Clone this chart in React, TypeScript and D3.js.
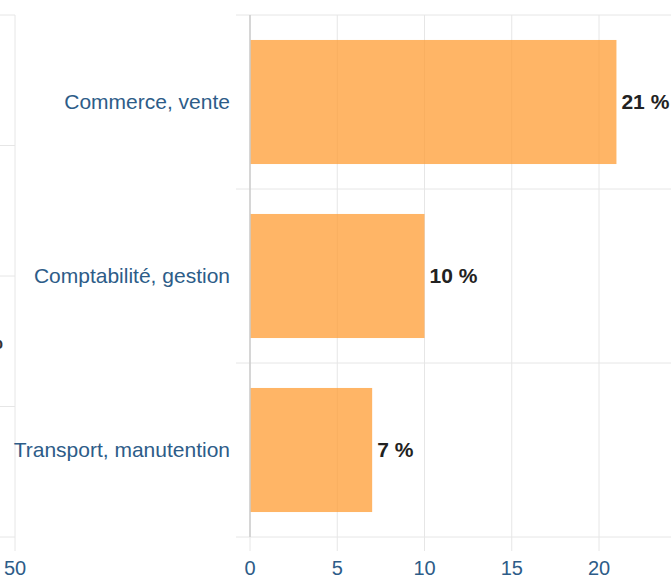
import React from "react";
import * as d3 from "d3";

const categories = ["Commerce, vente", "Comptabilité, gestion", "Transport, manutention"];
const values = [21, 10, 7];
const xTicks = [0, 5, 10, 15, 20, 25];
const leftCategories = ["a", "b", "c", "d"];
const leftTicks = [50];
const leftPartialLabels = ["", "", "%", ""];

const W = 671;
const H = 579;

export default function App() {
  const x = d3.scaleLinear().domain([0, 25]).range([250, 686.25]);
  const y = d3.scaleBand<string>().domain(categories).range([15, 537]).padding(0);
  const xL = d3.scaleLinear().domain([0, 50]).range([-420, 15]);
  const yL = d3.scaleBand<string>().domain(leftCategories).range([15, 537]).padding(0);
  const barH = y.bandwidth() * 0.713;
  const font = "'Liberation Sans', Arial, sans-serif";
  const grid = "#e6e6e6";
  const labelColor = "#2d5c88";
  const bounds = [...categories.map((c) => y(c) as number), 537];
  const boundsL = [...leftCategories.map((c) => yL(c) as number), 537];
  const visibleTicks = xTicks.filter((t) => x(t) + 12 <= W);

  return (
    <svg
      width={W}
      height={H}
      style={{ position: "absolute", left: 0, top: 0, background: "#fff" }}
      fontFamily={font}
    >
      {/* left partial chart */}
      {boundsL.map((b, i) => (
        <line key={"lh" + i} x1={-10} x2={xL(50)} y1={b} y2={b} stroke={grid} strokeWidth={1} />
      ))}
      {leftTicks.map((t) => (
        <g key={"lt" + t}>
          <line x1={xL(t)} x2={xL(t)} y1={15} y2={551} stroke={grid} strokeWidth={1} />
          <text x={xL(t)} y={575} textAnchor="middle" fontSize={20} fill={labelColor}>
            {t}
          </text>
        </g>
      ))}
      {leftCategories.map((c, i) =>
        leftPartialLabels[i] ? (
          <text
            key={"lp" + i}
            x={3}
            y={(yL(c) as number) + yL.bandwidth() / 2}
            dominantBaseline="central"
            textAnchor="end"
            fontSize={21}
            fontWeight="bold"
            fill="#333"
          >
            {leftPartialLabels[i]}
          </text>
        ) : null
      )}

      {/* right chart grid */}
      {xTicks.map((t) => (
        <line key={"vg" + t} x1={x(t)} x2={x(t)} y1={15} y2={551} stroke={grid} strokeWidth={1} />
      ))}
      {bounds.map((b, i) => (
        <line key={"hg" + i} x1={236} x2={W} y1={b} y2={b} stroke={grid} strokeWidth={1} />
      ))}

      {/* bars */}
      {categories.map((c, i) => (
        <rect
          key={"b" + c}
          x={x(0)}
          y={(y(c) as number) + (y.bandwidth() - barH) / 2}
          width={x(values[i]) - x(0)}
          height={barH}
          fill="#ff9c33"
          fillOpacity={0.75}
        />
      ))}

      {/* left axis line */}
      <line x1={x(0)} x2={x(0)} y1={15} y2={537} stroke="#cccccc" strokeWidth={1.5} />

      {/* category labels */}
      {categories.map((c) => (
        <text
          key={"cl" + c}
          x={230}
          y={(y(c) as number) + y.bandwidth() / 2 - 1}
          dominantBaseline="central"
          textAnchor="end"
          fontSize={21}
          fill={labelColor}
        >
          {c}
        </text>
      ))}

      {/* data labels */}
      {categories.map((c, i) => (
        <text
          key={"dl" + c}
          x={x(values[i]) + 5}
          y={(y(c) as number) + y.bandwidth() / 2 - 1}
          dominantBaseline="central"
          fontSize={21}
          fontWeight="bold"
          fill="#222"
        >
          {values[i]} %
        </text>
      ))}

      {/* x tick labels */}
      {visibleTicks.map((t) => (
        <text key={"xt" + t} x={x(t)} y={575} textAnchor="middle" fontSize={20} fill={labelColor}>
          {t}
        </text>
      ))}
    </svg>
  );
}
